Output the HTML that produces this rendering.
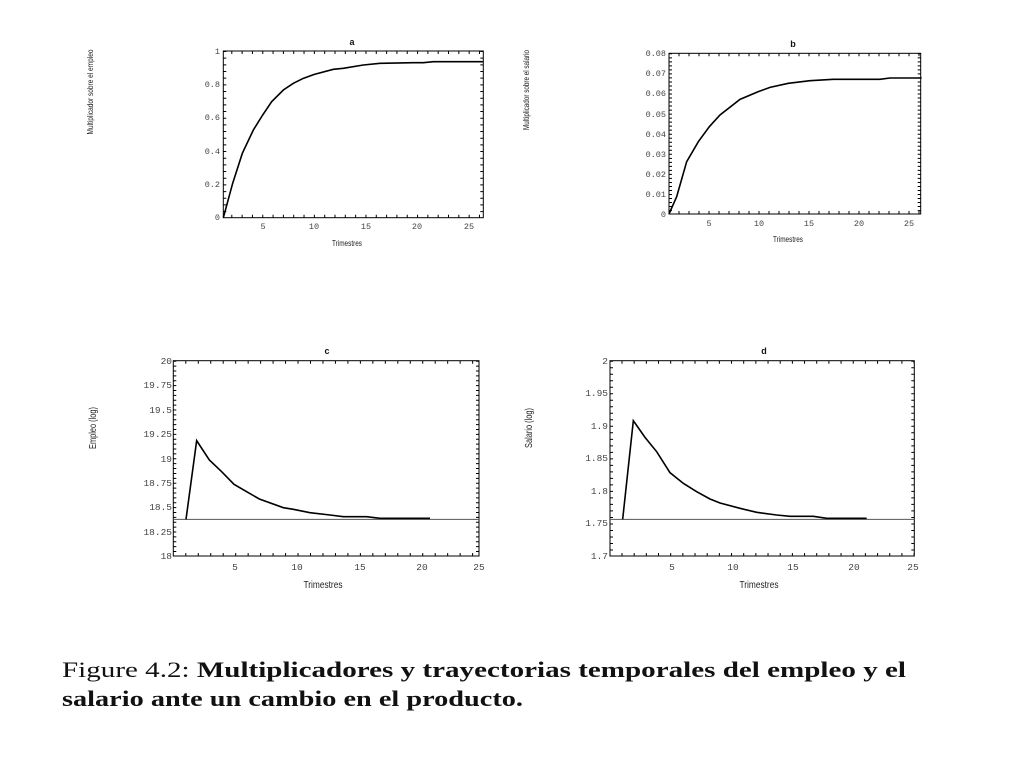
<!DOCTYPE html>
<html><head><meta charset="utf-8"><style>
body{margin:0;background:#fff;}
svg{display:block}
.t{font-family:"Liberation Mono",monospace;font-size:8.5px;fill:#444}
.l{font-family:"Liberation Sans",sans-serif;font-size:8.5px;fill:#222}
.ti{font-family:"Liberation Sans",sans-serif;font-size:9px;font-weight:bold;fill:#111}
.cap{font-family:"Liberation Serif",serif;font-size:22px;fill:#111}
</style></head><body>
<svg width="1032" height="773" viewBox="0 0 1032 773" xmlns="http://www.w3.org/2000/svg">
<g fill="none" stroke="#000">
<!-- Panel a -->
<rect x="223.3" y="51" width="260" height="166.7" stroke-width="1"/>
<line x1="231.3" y1="216.2" x2="483" y2="216.2" stroke-width="3" stroke-dasharray="1 9.32"/>
<line x1="231.3" y1="52.5" x2="483" y2="52.5" stroke-width="3" stroke-dasharray="1 9.32"/>
<line x1="224.8" y1="51" x2="224.8" y2="217.7" stroke-width="3" stroke-dasharray="1 5.67"/>
<line x1="481.8" y1="51" x2="481.8" y2="217.7" stroke-width="3" stroke-dasharray="1 5.67"/>
<g transform="translate(80,30) scale(0.33333)"><polyline vector-effect="non-scaling-stroke" stroke-width="1.6" points="430,563 458,460 487,370 520,300 548,255 575,215 610,180 640,160 670,145 703,133 760,118 790,115 850,105 900,100 1000,98 1030,98 1060,95 1210,95"/></g>
<!-- Panel b -->
<rect x="669" y="53.3" width="251.7" height="160.7" stroke-width="1"/>
<line x1="678.5" y1="212.5" x2="920" y2="212.5" stroke-width="3" stroke-dasharray="1 9"/>
<line x1="678.5" y1="54.8" x2="920" y2="54.8" stroke-width="3" stroke-dasharray="1 9"/>
<line x1="670.5" y1="53.3" x2="670.5" y2="214" stroke-width="3" stroke-dasharray="1 3.02"/>
<line x1="919.2" y1="53.3" x2="919.2" y2="214" stroke-width="3" stroke-dasharray="1 3.02"/>
<g transform="translate(510,30) scale(0.33333)"><polyline vector-effect="non-scaling-stroke" stroke-width="1.6" points="477,552 500,500 530,395 565,335 598,290 630,255 690,208 745,185 780,172 835,160 900,152 970,148 1110,148 1140,144 1235,144"/></g>
<!-- Panel c -->
<rect x="173.3" y="360.7" width="305.7" height="195.3" stroke-width="1"/>
<line x1="185.3" y1="554.5" x2="479" y2="554.5" stroke-width="3" stroke-dasharray="1 11.47"/>
<line x1="185.3" y1="362.2" x2="479" y2="362.2" stroke-width="3" stroke-dasharray="1 11.47"/>
<line x1="174.8" y1="360.7" x2="174.8" y2="556" stroke-width="3" stroke-dasharray="1 3.88"/>
<line x1="477.5" y1="360.7" x2="477.5" y2="556" stroke-width="3" stroke-dasharray="1 3.88"/>
<g transform="translate(80,340) scale(0.33333)">
<line x1="280" y1="538" x2="1197" y2="538" vector-effect="non-scaling-stroke" stroke="#555" stroke-width="1"/>
<polyline vector-effect="non-scaling-stroke" stroke-width="1.6" points="318,538 350,302 388,360 425,395 462,433 500,455 538,477 610,503 640,508 690,518 750,525 790,530 860,530 900,535 1050,535"/></g>
<!-- Panel d -->
<rect x="610" y="360.7" width="304.3" height="195.3" stroke-width="1"/>
<line x1="621.5" y1="554.5" x2="914" y2="554.5" stroke-width="3" stroke-dasharray="1 11.17"/>
<line x1="621.5" y1="362.2" x2="914" y2="362.2" stroke-width="3" stroke-dasharray="1 11.17"/>
<line x1="611.5" y1="360.7" x2="611.5" y2="556" stroke-width="3" stroke-dasharray="1 5.51"/>
<line x1="912.8" y1="360.7" x2="912.8" y2="556" stroke-width="3" stroke-dasharray="1 5.51"/>
<g transform="translate(510,340) scale(0.33333)">
<line x1="300" y1="538" x2="1213" y2="538" vector-effect="non-scaling-stroke" stroke="#555" stroke-width="1"/>
<polyline vector-effect="non-scaling-stroke" stroke-width="1.6" points="338,538 370,242 405,292 440,335 480,398 520,430 560,455 600,477 630,489 690,505 740,517 800,525 840,529 910,529 950,535 1070,535"/></g>
</g>

<!-- Panel a labels -->
<g class="t" text-anchor="end">
<text x="220" y="54">1</text><text x="220" y="87">0.8</text><text x="220" y="120">0.6</text><text x="220" y="154">0.4</text><text x="220" y="187">0.2</text><text x="220" y="220">0</text>
</g>
<g class="t" text-anchor="middle">
<text x="263" y="229">5</text><text x="314" y="229">10</text><text x="366" y="229">15</text><text x="417" y="229">20</text><text x="469" y="229">25</text>
</g>
<text class="ti" x="352" y="45" text-anchor="middle">a</text>
<text class="l" x="347" y="246" text-anchor="middle" textLength="30" lengthAdjust="spacingAndGlyphs">Trimestres</text>
<text class="l" transform="translate(93,92) rotate(-90)" text-anchor="middle" textLength="85" lengthAdjust="spacingAndGlyphs">Multiplicador sobre el empleo</text>

<!-- Panel b labels -->
<g class="t" text-anchor="end">
<text x="666" y="56">0.08</text><text x="666" y="76">0.07</text><text x="666" y="96">0.06</text><text x="666" y="117">0.05</text><text x="666" y="137">0.04</text><text x="666" y="157">0.03</text><text x="666" y="177">0.02</text><text x="666" y="197">0.01</text><text x="666" y="217">0</text>
</g>
<g class="t" text-anchor="middle">
<text x="709" y="226">5</text><text x="759" y="226">10</text><text x="809" y="226">15</text><text x="859" y="226">20</text><text x="909" y="226">25</text>
</g>
<text class="ti" x="793" y="47" text-anchor="middle">b</text>
<text class="l" x="788" y="242" text-anchor="middle" textLength="30" lengthAdjust="spacingAndGlyphs">Trimestres</text>
<text class="l" transform="translate(529,90) rotate(-90)" text-anchor="middle" textLength="80" lengthAdjust="spacingAndGlyphs">Multiplicador sobre el salario</text>

<!-- Panel c labels -->
<g class="t" text-anchor="end" style="font-size:9.5px">
<text x="172" y="364">20</text><text x="172" y="388">19.75</text><text x="172" y="413">19.5</text><text x="172" y="437">19.25</text><text x="172" y="462">19</text><text x="172" y="486">18.75</text><text x="172" y="510">18.5</text><text x="172" y="535">18.25</text><text x="172" y="559">18</text>
</g>
<g class="t" text-anchor="middle" style="font-size:9.5px">
<text x="235" y="570">5</text><text x="297" y="570">10</text><text x="360" y="570">15</text><text x="422" y="570">20</text><text x="479" y="570">25</text>
</g>
<text class="ti" x="327" y="354" text-anchor="middle">c</text>
<text class="l" x="323" y="588" text-anchor="middle" style="font-size:10px" textLength="39" lengthAdjust="spacingAndGlyphs">Trimestres</text>
<text class="l" transform="translate(96,428) rotate(-90)" text-anchor="middle" style="font-size:10px" textLength="42" lengthAdjust="spacingAndGlyphs">Empleo (log)</text>

<!-- Panel d labels -->
<g class="t" text-anchor="end" style="font-size:9.5px">
<text x="608" y="364">2</text><text x="608" y="396">1.95</text><text x="608" y="429">1.9</text><text x="608" y="461">1.85</text><text x="608" y="494">1.8</text><text x="608" y="526">1.75</text><text x="608" y="559">1.7</text>
</g>
<g class="t" text-anchor="middle" style="font-size:9.5px">
<text x="672" y="570">5</text><text x="733" y="570">10</text><text x="793" y="570">15</text><text x="854" y="570">20</text><text x="913" y="570">25</text>
</g>
<text class="ti" x="764" y="354" text-anchor="middle">d</text>
<text class="l" x="759" y="588" text-anchor="middle" style="font-size:10px" textLength="39" lengthAdjust="spacingAndGlyphs">Trimestres</text>
<text class="l" transform="translate(532,428) rotate(-90)" text-anchor="middle" style="font-size:10px" textLength="40" lengthAdjust="spacingAndGlyphs">Salario (log)</text>

<!-- Caption -->
<text class="cap" x="62" y="677" textLength="844" lengthAdjust="spacingAndGlyphs">Figure 4.2: <tspan font-weight="bold">Multiplicadores y trayectorias temporales del empleo y el</tspan></text>
<text class="cap" x="62" y="706" font-weight="bold" textLength="461" lengthAdjust="spacingAndGlyphs">salario ante un cambio en el producto.</text>
</svg>
</body></html>
